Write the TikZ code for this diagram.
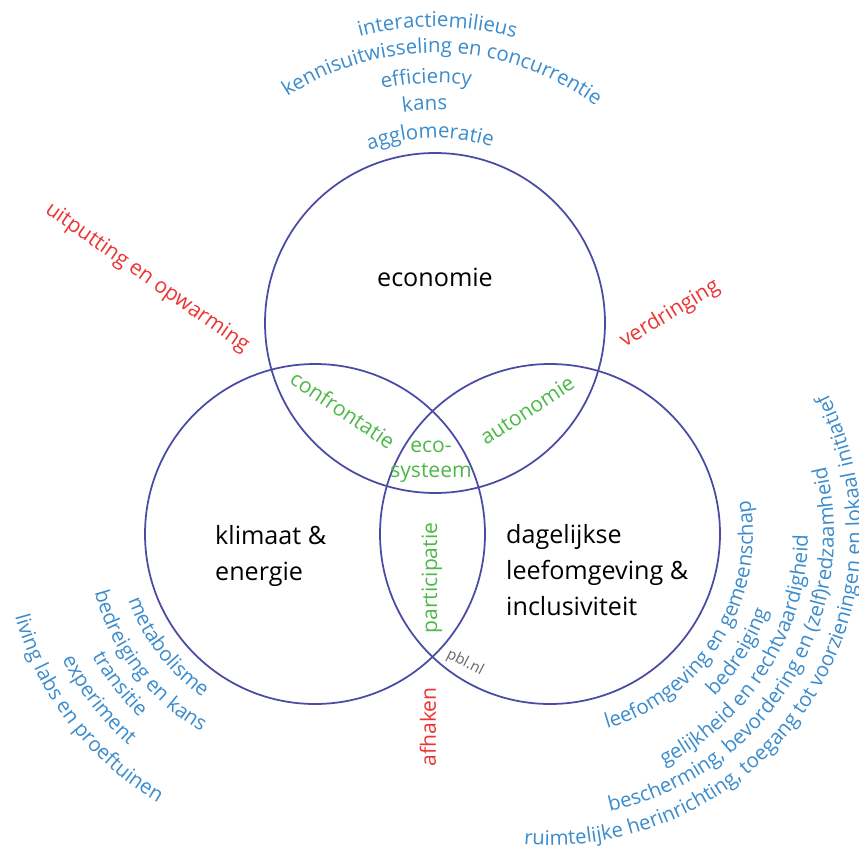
\documentclass[tikz,border=0pt]{standalone}
\usepackage{fontspec}
\setmainfont{Open Sans}
\usetikzlibrary{decorations.text}

\definecolor{ringblue}{RGB}{75,75,165}
\definecolor{wordblue}{RGB}{59,140,204}
\definecolor{wordred}{RGB}{238,51,51}
\definecolor{wordgreen}{RGB}{77,184,72}
\definecolor{wordgray}{RGB}{100,100,100}

\newcommand{\bluefont}{\fontsize{11.6}{14}\selectfont}

\begin{document}
\begin{tikzpicture}[
  ring/.style={draw=ringblue, line width=1pt},
  theme/.style={font=\fontsize{14.3}{20.5}\selectfont, align=left, anchor=west},
  overlap/.style={text=wordgreen, font=\fontsize{12}{14.5}\selectfont},
  risk/.style={text=wordred, font=\fontsize{12}{14}\selectfont},
  along/.style={decorate, decoration={text along path, text align=center,
    text color=wordblue, text={|\bluefont|#1}}}
]
\useasboundingbox (0,0) rectangle (17.18,16.96);

% centres of the three circles
\coordinate (T) at (8.7,10.5);
\coordinate (L) at (6.3,6.28);
\coordinate (R) at (11.0,6.28);

\draw[ring] (T) circle (3.4);
\draw[ring] (L) circle (3.4);
\draw[ring] (R) circle (3.4);

\node[font=\fontsize{14.3}{20.5}\selectfont] (econ) at (8.7,11.42) {economie};
\node[theme] (klim) at (4.18,5.84) {klimaat \&\\energie};
\node[theme] (leef) at (10.0,5.56) {dagelijkse\\leefomgeving \&\\inclusiviteit};

\node[overlap, rotate=-34] (conf) at (6.86,8.76) {confrontatie};
\node[overlap, rotate=33] (auto) at (10.54,8.76) {autonomie};
\node[overlap, align=center] (eco) at (8.62,7.72) {eco-\\systeem};
\node[overlap, rotate=90] (part) at (8.64,5.4) {participatie};
\node[text=wordgray, font=\fontsize{8.5}{10}\selectfont, rotate=-27] (pbl) at (9.3,3.7) {pbl.nl};

\node[risk, rotate=-35] (uitp) at (2.94,11.4) {uitputting en opwarming};
\node[risk, rotate=31] (verd) at (13.4,10.68) {verdringing};
\node[risk, rotate=90] (afha) at (8.56,2.42) {afhaken};

% economie
\path[along={agglomeratie}] (T) ++(171.5:3.7) arc[start angle=171.5, end angle=11.5, radius=3.7];
\path[along={kans}] (T) ++(172.7:4.26) arc[start angle=172.7, end angle=12.7, radius=4.26];
\path[along={efficiency}] (T) ++(172.1:4.8) arc[start angle=172.1, end angle=12.1, radius=4.8];
\path[along={kennisuitwisseling en concurrentie}] (T) ++(168.3:5.4) arc[start angle=168.3, end angle=8.3, radius=5.4];
\path[along={interactiemilieus}] (T) ++(169.5:5.92) arc[start angle=169.5, end angle=9.5, radius=5.92];

% klimaat
\path[along={metabolisme}] (L) ++(132.5:3.96) arc[start angle=132.5, end angle=302.5, radius=3.96];
\path[along={bedreiging en kans}] (L) ++(132.5:4.56) arc[start angle=132.5, end angle=302.5, radius=4.56];
\path[along={transitie}] (L) ++(132.5:5.08) arc[start angle=132.5, end angle=302.5, radius=5.08];
\path[along={experiment}] (L) ++(132.5:5.64) arc[start angle=132.5, end angle=302.5, radius=5.64];
\path[along={living labs en proeftuinen}] (L) ++(132.5:6.22) arc[start angle=132.5, end angle=302.5, radius=6.22];

% leefomgeving
\path[along={leefomgeving en gemeenschap}] (R) ++(-117:4.06) arc[start angle=-117, end angle=53, radius=4.06];
\path[along={bedreiging}] (R) ++(-117:4.62) arc[start angle=-117, end angle=53, radius=4.62];
\path[along={gelijkheid en rechtvaardigheid}] (R) ++(-117:5.16) arc[start angle=-117, end angle=53, radius=5.16];
\path[along={bescherming, bevordering en (zelf)redzaamheid}] (R) ++(-117:5.68) arc[start angle=-117, end angle=53, radius=5.68];
\path[along={ruimtelijke herinrichting, toegang tot voorzieningen en lokaal initiatief}] (R) ++(-119:6.22) arc[start angle=-119, end angle=51, radius=6.22];
\end{tikzpicture}
\end{document}
